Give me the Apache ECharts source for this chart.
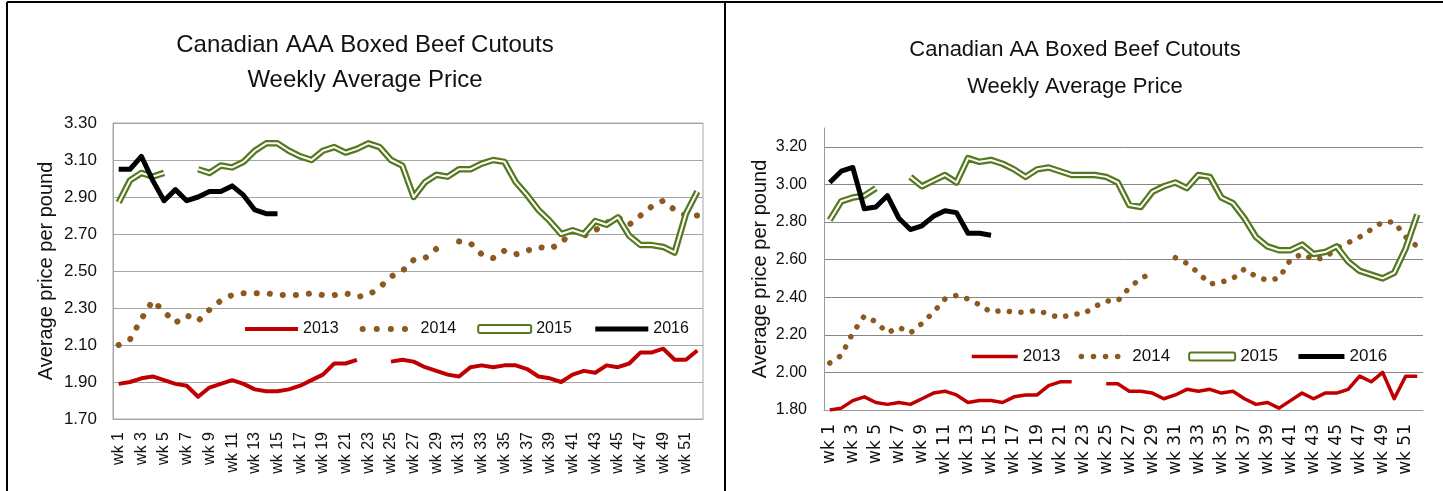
<!DOCTYPE html>
<html>
<head>
<meta charset="utf-8">
<title>Canadian Boxed Beef Cutouts</title>
<script src="https://cdn.jsdelivr.net/npm/echarts@6.0.0/dist/echarts.min.js"></script>
<style>
    html, body { margin: 0; padding: 0; background: #fff; }
    #echarts-main { width: 1443px; height: 491px; }
</style>
</head>
<body>
<div id="echarts-main"></div>
<script>
// week categories (same for both charts)
var weeks = ['wk 1', 'wk 2', 'wk 3', 'wk 4', 'wk 5', 'wk 6', 'wk 7', 'wk 8', 'wk 9', 'wk 10',
    'wk 11', 'wk 12', 'wk 13', 'wk 14', 'wk 15', 'wk 16', 'wk 17', 'wk 18', 'wk 19', 'wk 20',
    'wk 21', 'wk 22', 'wk 23', 'wk 24', 'wk 25', 'wk 26', 'wk 27', 'wk 28', 'wk 29', 'wk 30',
    'wk 31', 'wk 32', 'wk 33', 'wk 34', 'wk 35', 'wk 36', 'wk 37', 'wk 38', 'wk 39', 'wk 40',
    'wk 41', 'wk 42', 'wk 43', 'wk 44', 'wk 45', 'wk 46', 'wk 47', 'wk 48', 'wk 49', 'wk 50',
    'wk 51', 'wk 52'];
var years = ['2013', '2014', '2015', '2016'];

// AAA cutouts, $ per pound
var aaa2013 = [1.89, 1.90, 1.92, 1.93, 1.91, 1.89, 1.88, 1.82, 1.87, 1.89, 1.91, 1.89, 1.86, 1.85, 1.85, 1.86, 1.88, 1.91, 1.94, 2.00,
    2.00, 2.02, null, null, 2.01, 2.02, 2.01, 1.98, 1.96, 1.94, 1.93, 1.98, 1.99, 1.98, 1.99, 1.99, 1.97, 1.93, 1.92, 1.90,
    1.94, 1.96, 1.95, 1.99, 1.98, 2.00, 2.06, 2.06, 2.08, 2.02, 2.02, 2.07];
var aaa2014 = [2.10, 2.13, 2.24, 2.34, 2.28, 2.22, 2.26, 2.23, 2.29, 2.34, 2.37, 2.38, 2.38, 2.38, 2.37, 2.37, 2.37, 2.38, 2.37, 2.37,
    2.38, 2.36, 2.37, 2.41, 2.47, 2.50, 2.56, 2.57, 2.62, null, 2.66, 2.65, 2.59, 2.57, 2.61, 2.59, 2.61, 2.63, 2.62, 2.65,
    2.72, 2.69, 2.72, 2.76, 2.79, 2.75, 2.80, 2.85, 2.88, 2.83, 2.80, 2.80];
var aaa2015 = [2.87, 2.99, 3.03, 3.01, 3.03, null, null, 3.05, 3.03, 3.07, 3.06, 3.09, 3.15, 3.19, 3.19, 3.15, 3.12, 3.10, 3.15, 3.17,
    3.14, 3.16, 3.19, 3.17, 3.10, 3.07, 2.90, 2.98, 3.02, 3.01, 3.05, 3.05, 3.08, 3.10, 3.09, 2.98, 2.91, 2.83, 2.77, 2.70,
    2.72, 2.70, 2.77, 2.75, 2.79, 2.69, 2.64, 2.64, 2.63, 2.60, 2.81, 2.93];
var aaa2016 = [3.05, 3.05, 3.12, 2.99, 2.88, 2.94, 2.88, 2.90, 2.93, 2.93, 2.96, 2.91, 2.83, 2.81, 2.81];

// AA cutouts, $ per pound
var aa2013 = [1.80, 1.81, 1.85, 1.87, 1.84, 1.83, 1.84, 1.83, 1.86, 1.89, 1.90, 1.88, 1.84, 1.85, 1.85, 1.84, 1.87, 1.88, 1.88, 1.93,
    1.95, 1.95, null, null, 1.94, 1.94, 1.90, 1.90, 1.89, 1.86, 1.88, 1.91, 1.90, 1.91, 1.89, 1.90, 1.86, 1.83, 1.84, 1.81,
    1.85, 1.89, 1.86, 1.89, 1.89, 1.91, 1.98, 1.95, 2.00, 1.86, 1.98, 1.98];
var aa2014 = [2.05, 2.09, 2.21, 2.30, 2.27, 2.21, 2.24, 2.21, 2.26, 2.32, 2.39, 2.41, 2.39, 2.36, 2.32, 2.33, 2.32, 2.32, 2.33, 2.31,
    2.29, 2.31, 2.31, 2.35, 2.38, 2.38, 2.45, 2.50, 2.53, null, 2.61, 2.58, 2.53, 2.47, 2.48, 2.50, 2.55, 2.51, 2.49, 2.50,
    2.60, 2.63, 2.60, 2.61, 2.66, 2.69, 2.72, 2.76, 2.80, 2.80, 2.72, 2.67];
var aa2015 = [2.81, 2.91, 2.93, 2.94, 2.98, null, null, 3.04, 2.99, 3.02, 3.05, 3.01, 3.14, 3.12, 3.13, 3.11, 3.08, 3.04, 3.08, 3.09,
    3.07, 3.05, 3.05, 3.05, 3.04, 3.01, 2.89, 2.88, 2.96, 2.99, 3.01, 2.98, 3.05, 3.04, 2.93, 2.90, 2.82, 2.72, 2.67, 2.65,
    2.65, 2.68, 2.63, 2.64, 2.67, 2.59, 2.54, 2.52, 2.50, 2.53, 2.66, 2.84];
var aa2016 = [3.01, 3.07, 3.09, 2.87, 2.88, 2.94, 2.82, 2.76, 2.78, 2.83, 2.86, 2.85, 2.74, 2.74, 2.73];

var RED = '#c00000';
var BROWN = '#8c5a21';
var GREEN = '#56781f';
var SANS = '"Liberation Sans", Arial, sans-serif';

// one chart = 5 line series (2015 is a green line with a white core)
function yearSeries(idx, d13, d14, d15, d16, w) {
    var base = { type: 'line', xAxisIndex: idx, yAxisIndex: idx, symbol: 'none', animation: false };
    return [
        Object.assign({}, base, { name: years[0], data: d13, color: RED,
            lineStyle: { color: RED, width: w.red, join: 'round' } }),
        Object.assign({}, base, { name: years[1], data: d14, color: BROWN,
            lineStyle: { color: BROWN, width: w.dot, type: [0.1, w.gap], cap: 'round', join: 'round' } }),
        Object.assign({}, base, { name: years[2], data: d15, color: GREEN,
            lineStyle: { color: GREEN, width: w.green, join: 'round' } }),
        Object.assign({}, base, { name: years[2] + ' core', data: d15, color: '#fff', silent: true,
            lineStyle: { color: '#fff', width: w.core, join: 'round' } }),
        Object.assign({}, base, { name: years[3], data: d16, color: '#000',
            lineStyle: { color: '#000', width: w.black, join: 'round' } })
    ];
}

function legendData(w) {
    return [
        { name: years[0], itemStyle: { opacity: 0 }, lineStyle: { color: RED, width: w.red } },
        { name: years[1], itemStyle: { opacity: 0 }, lineStyle: { color: BROWN, width: w.dot, type: [0.1, w.legendGap], cap: 'round' } },
        { name: years[2], icon: 'roundRect', itemStyle: { color: '#fff', borderColor: GREEN, borderWidth: 2 } },
        { name: years[3], itemStyle: { opacity: 0 }, lineStyle: { color: '#000', width: w.black } }
    ];
}

var leftLook = { red: 4, dot: 6, gap: 13, legendGap: 14, green: 6.5, core: 2, black: 5 };
var rightLook = { red: 3.5, dot: 5.5, gap: 11.5, legendGap: 12, green: 6.5, core: 2, black: 5 };

function twoDec(v) {
    return v.toFixed(2);
}

this.myChart = echarts.init(document.getElementById('echarts-main'), null, { renderer: 'canvas' });
var option = {
    backgroundColor: '#fff',
    animation: false,
    title: [{
        text: 'Canadian AAA Boxed Beef Cutouts\nWeekly Average Price',
        left: 365, top: 28, padding: 0, textAlign: 'center',
        textStyle: { fontFamily: SANS, fontSize: 24, fontWeight: 'normal', lineHeight: 35, color: '#111' }
    }, {
        text: 'Canadian AA Boxed Beef Cutouts\nWeekly Average Price',
        left: 1075, top: 31, padding: 0, textAlign: 'center',
        textStyle: { fontFamily: SANS, fontSize: 22, fontWeight: 'normal', lineHeight: 37, color: '#111' }
    }],
    legend: [{
        data: legendData(leftLook),
        left: 243, top: 321, padding: 0,
        itemWidth: 53, itemHeight: 8, itemGap: 21,
        textStyle: { fontFamily: SANS, fontSize: 16, color: '#111' }
    }, {
        data: legendData(rightLook),
        left: 970, top: 348, padding: 0,
        itemWidth: 46, itemHeight: 8, itemGap: 18,
        textStyle: { fontFamily: SANS, fontSize: 17, color: '#111' }
    }],
    grid: [
        { left: 113, top: 123, width: 590, height: 296, show: true, borderColor: '#a6a6a6', borderWidth: 1, outerBoundsMode: 'none' },
        { left: 824, top: 128, width: 599, height: 282, outerBoundsMode: 'none' }
    ],
    xAxis: [{
        gridIndex: 0, type: 'category', data: weeks, boundaryGap: true,
        axisLine: { lineStyle: { color: '#a6a6a6' } },
        axisTick: { interval: 0, length: 6, lineStyle: { color: '#a6a6a6' } },
        axisLabel: { interval: 1, rotate: 90, margin: 13, fontFamily: SANS, fontSize: 16, color: '#111' }
    }, {
        gridIndex: 1, type: 'category', data: weeks, boundaryGap: true,
        axisLine: { lineStyle: { color: '#9a9a9a' } },
        axisTick: { interval: 0, length: 6, lineStyle: { color: '#9a9a9a' } },
        axisLabel: { interval: 1, rotate: 90, margin: 14, fontFamily: '"DejaVu Sans", sans-serif', fontSize: 17, color: '#111' }
    }],
    yAxis: [{
        gridIndex: 0, type: 'value', min: 1.7, max: 3.3, interval: 0.2,
        axisLine: { show: true, lineStyle: { color: '#a6a6a6' } },
        axisTick: { show: false },
        splitLine: { lineStyle: { color: '#a6a6a6' } },
        axisLabel: { formatter: twoDec, margin: 16, fontFamily: SANS, fontSize: 17, color: '#111' },
        name: 'Average price per pound', nameLocation: 'middle', nameGap: 57,
        nameTextStyle: { fontFamily: SANS, fontSize: 20, color: '#111' }
    }, {
        gridIndex: 1, type: 'value', min: 1.8, max: 3.3, interval: 0.2,
        axisLine: { show: true, lineStyle: { color: '#9a9a9a' } },
        axisTick: { show: false },
        splitLine: { showMaxLine: false, lineStyle: { color: '#868686' } },
        axisLabel: { formatter: twoDec, showMaxLabel: false, margin: 17, fontFamily: SANS, fontSize: 16, color: '#111' },
        name: 'Average price per pound', nameLocation: 'middle', nameGap: 54,
        nameTextStyle: { fontFamily: SANS, fontSize: 20, color: '#111' }
    }],
    // panel frames
    graphic: [
        { type: 'line', shape: { x1: 7, y1: 2, x2: 1443, y2: 2 }, style: { stroke: '#000', lineWidth: 2 } },
        { type: 'line', shape: { x1: 7, y1: 2, x2: 7, y2: 491 }, style: { stroke: '#000', lineWidth: 2 } },
        { type: 'line', shape: { x1: 725, y1: 2, x2: 725, y2: 491 }, style: { stroke: '#000', lineWidth: 2 } }
    ],
    series: yearSeries(0, aaa2013, aaa2014, aaa2015, aaa2016, leftLook)
        .concat(yearSeries(1, aa2013, aa2014, aa2015, aa2016, rightLook))
};
this.myChart.setOption(option);
</script>
</body>
</html>
